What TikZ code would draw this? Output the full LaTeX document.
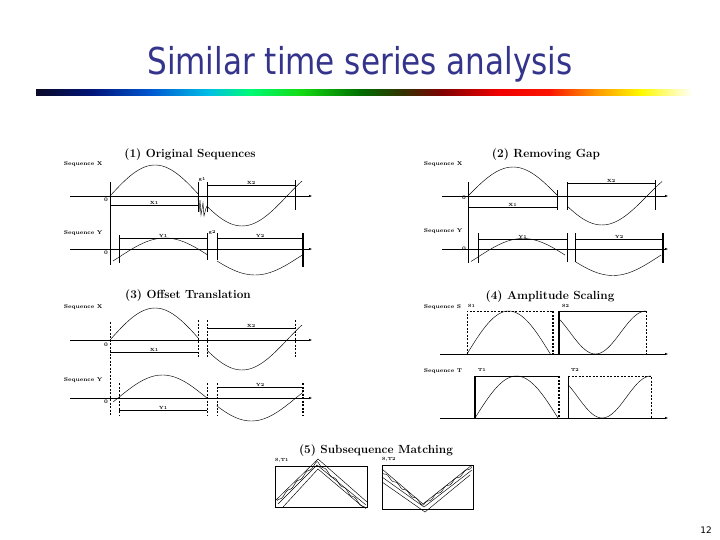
\documentclass[tikz,border=0pt]{standalone}
\usepackage{fontspec}
\usepackage{graphicx}
\usetikzlibrary{arrows.meta}
\usetikzlibrary{positioning}
\newfontfamily\slidefont{DejaVu Sans}

\definecolor{titleblue}{RGB}{52,52,140}
\definecolor{bar0}{RGB}{10,10,40}
\definecolor{bar1}{RGB}{0,20,120}
\definecolor{bar2}{RGB}{0,90,210}
\definecolor{bar3}{RGB}{0,190,230}
\definecolor{bar4}{RGB}{0,250,120}
\definecolor{bar5}{RGB}{20,220,20}
\definecolor{bar6}{RGB}{0,110,0}
\definecolor{bar7}{RGB}{50,50,0}
\definecolor{bar8}{RGB}{130,0,0}
\definecolor{bar9}{RGB}{240,0,0}
\definecolor{bar10}{RGB}{250,20,0}
\definecolor{bar11}{RGB}{255,150,0}
\definecolor{bar12}{RGB}{255,250,0}
\definecolor{bar13}{RGB}{255,255,255}

\begin{document}
\begin{tikzpicture}[
    x=1pt, y=-1pt,
    axis/.style={line width=0.6pt, -{Triangle[length=3pt, width=2pt]}},
    seq/.style={line width=0.45pt},
    tickline/.style={line width=0.5pt},
    thicktick/.style={line width=1.4pt},
    dashtick/.style={line width=0.5pt, dash pattern=on 2pt off 1.5pt},
    span/.style={line width=0.5pt},
    lbl/.style={font=\fontsize{5.5}{6}\selectfont\bfseries, inner sep=0.6pt},
    small/.style={font=\fontsize{4.5}{5}\selectfont\bfseries, inner sep=0.6pt},
    ptitle/.style={font=\fontsize{11.8}{13}\selectfont\bfseries, inner sep=0pt}
]

\useasboundingbox (0,0) rectangle (720,540);
\fill[white] (0,0) rectangle (720,540);

% --- Slide title and colour bar ---
\node[text=titleblue, font=\slidefont\fontsize{37}{40}\selectfont] (title) at (360,64)
    {\scalebox{0.84}[1]{Similar time series analysis}};

\foreach \a/\b/\ca/\cb in {36/92/bar0/bar1, 92/152/bar1/bar2, 152/208/bar2/bar3,
    208/249/bar3/bar4, 249/300/bar4/bar5, 300/360/bar5/bar6, 360/402/bar6/bar7,
    402/443/bar7/bar8, 443/498/bar8/bar9, 498/549/bar9/bar10, 549/595/bar10/bar11,
    595/641/bar11/bar12, 641/692/bar12/bar13}
    \shade[left color=\ca, right color=\cb] (\a,89.5) rectangle (\b+0.4,95.5);

% --- Panel (1): original sequences ---
\node[ptitle] (t1) at (190,155) {(1) Original Sequences};
\begin{scope}[shift={(110,196)}]
    \node[lbl, anchor=west] (p1sx) at (-47,-32) {Sequence X};
    \node[lbl, anchor=west] (p1sy) at (-47,37) {Sequence Y};
    \node[lbl] (p1o1) at (-4,4) {0};
    \node[lbl] (p1o2) at (-4,57) {0};
    \draw[axis] (-40,0) -- (202,0);
    \draw[axis] (-40,53) -- (202,53);
    \draw[tickline] (0,-14) -- (0,69);
    % X sequence with noisy gap
    \draw[seq] plot[domain=0:176, samples=40] ({\x*0.5},{-31*sin(\x)});
    \draw[seq] (88,1) -- (89,16) -- (90,4) -- (91,19) -- (93,7) -- (94,20) -- (96,12) -- (97,10);
    \draw[seq] plot[domain=200:390, samples=40] ({132+(\x-270)*0.5},{-30*sin(\x)});
    \foreach \u in {88,97}
        \draw[tickline] (\u,-14) -- (\u,16);
    \draw[tickline] (185,-16) -- (185,14);
    \draw[span] (0,9) -- (88,9) node[small, midway, above] (p1x1) {X1};
    \draw[span] (97,-11) -- (185,-11) node[small, midway, above] (p1x2) {X2};
    \node[small] (p1g1) at (92,-17) {g1};
    % Y sequence
    \draw[seq] plot[domain=-14:174, samples=40] ({55+(\x-90)*0.5},{60.5-18.5*sin(\x)});
    \draw[seq] plot[domain=194:366, samples=40] ({55+(\x-90)*0.5},{60.5-18.5*sin(\x)});
    \draw[tickline] (9,39) -- (9,67);
    \foreach \u in {97,107}
        \draw[tickline] (\u,37) -- (\u,64);
    \draw[thicktick] (193,37) -- (193,71);
    \draw[span] (9,42) -- (97,42) node[small, midway, above] (p1y1) {Y1};
    \draw[span] (107,42) -- (193,42) node[small, midway, above] (p1y2) {Y2};
    \node[small] (p1g2) at (102,36) {g2};
\end{scope}

% --- Panel (2): removing gap ---
\node[ptitle] (t2) at (546,155) {(2) Removing Gap};
\begin{scope}[shift={(468,196)}]
    \node[lbl, anchor=west] (p2sx) at (-45,-32) {Sequence X};
    \node[lbl, anchor=west] (p2sy) at (-45,35) {Sequence Y};
    \node[lbl] (p2o1) at (-4,2) {0};
    \node[lbl] (p2o2) at (-4,53) {0};
    \draw[axis] (-26,0) -- (200,0);
    \draw[axis] (-26,53) -- (200,53);
    \draw[tickline] (0,-14) -- (0,67);
    % X sequence
    \draw[seq] plot[domain=0:178, samples=40] ({\x*0.5},{-29*sin(\x)});
    \draw[seq] plot[domain=200:390, samples=40] ({134+(\x-270)*0.5},{-29*sin(\x)});
    \draw[tickline] (89,-6) -- (89,14);
    \draw[tickline] (99,-14) -- (99,14);
    \draw[tickline] (187,-16) -- (187,14);
    \draw[span] (0,11) -- (89,11) node[small, midway, above] (p2x1) {X1};
    \draw[span] (99,-13) -- (187,-13) node[small, midway, above] (p2x2) {X2};
    % Y sequence
    \draw[seq] plot[domain=-14:174, samples=40] ({55+(\x-90)*0.5},{61-18.5*sin(\x)});
    \draw[seq] plot[domain=194:366, samples=40] ({55+(\x-90)*0.5},{61-18.5*sin(\x)});
    \draw[tickline] (10,37) -- (10,67);
    \foreach \u in {99,107}
        \draw[tickline] (\u,37) -- (\u,66);
    \draw[thicktick] (195,37) -- (195,67);
    \draw[span] (10,43) -- (99,43) node[small, midway, above] (p2y1) {Y1};
    \draw[span] (107,43) -- (195,43) node[small, midway, above] (p2y2) {Y2};
\end{scope}

% --- Panel (3): offset translation ---
\node[ptitle] (t3) at (188,296) {(3) Offset Translation};
\begin{scope}[shift={(110,340)}]
    \node[lbl, anchor=west] (p3sx) at (-47,-33) {Sequence X};
    \node[lbl, anchor=west] (p3sy) at (-47,40) {Sequence Y};
    \node[lbl] (p3o1) at (-4,5) {0};
    \node[lbl] (p3o2) at (-4,62) {0};
    \draw[axis] (-40,0) -- (202,0);
    \draw[axis] (-40,58) -- (202,58);
    \draw[dashtick] (0,-18) -- (0,75);
    % X sequence
    \draw[seq] plot[domain=0:176, samples=40] ({\x*0.5},{-32*sin(\x)});
    \draw[seq] plot[domain=200:390, samples=40] ({132+(\x-270)*0.5},{-30*sin(\x)});
    \foreach \u in {88,97,185}
        \draw[dashtick] (\u,-20) -- (\u,17);
    \draw[span] (0,12) -- (88,12) node[small, midway, above] (p3x1) {X1};
    \draw[span] (97,-12) -- (185,-12) node[small, midway, above] (p3x2) {X2};
    % Y sequence
    \draw[seq] plot[domain=-10:180, samples=40] ({8+\x*0.494},{58-23*sin(\x)});
    \draw[seq] plot[domain=200:374, samples=40] ({8+\x*0.494},{58-23*sin(\x)});
    \foreach \u in {9,97,107}
        \draw[dashtick] (\u,43) -- (\u,75);
    \draw[dashtick, line width=1.4pt] (193,43) -- (193,75);
    \draw[span] (9,70) -- (97,70) node[small, midway, above] (p3y1) {Y1};
    \draw[span] (107,47) -- (193,47) node[small, midway, above] (p3y2) {Y2};
\end{scope}

% --- Panel (4): amplitude scaling ---
\node[ptitle] (t4) at (550,297) {(4) Amplitude Scaling};
\node[lbl, anchor=west] (p4ss) at (423,307) {Sequence S};
\node[small, anchor=west] (p4s1) at (467,306) {S1};
\node[small, anchor=west] (p4s2) at (561,306) {S2};
\node[lbl, anchor=west] (p4st) at (423,371) {Sequence T};
\node[small, anchor=west] (p4t1) at (477,370) {T1};
\node[small, anchor=west] (p4t2) at (570,370) {T2};
\draw[axis] (440,354) -- (668,354);
\draw[axis] (440,418) -- (668,418);
% S windows
\draw[dashtick] (467,354) -- (467,311) -- (553,311);
\draw[dashtick, line width=1.1pt] (553,311) -- (553,354);
\draw[seq] plot[domain=0:180, samples=40] ({467+\x*0.463},{354-43*sin(\x)});
\draw[thicktick] (559,354) -- (559,311);
\draw[tickline] (559,311) -- (646,311);
\draw[dashtick] (646,311) -- (646,354);
\draw[seq] plot[domain=-36:270, samples=50] ({560+(\x+36)*0.281},{332.5+21.5*sin(\x)});
% T windows
\draw[thicktick] (475,418) -- (475,376);
\draw[tickline] (475,376) -- (559,376);
\draw[dashtick, line width=1.1pt] (559,376) -- (559,418);
\draw[seq] plot[domain=0:180, samples=40] ({475+\x*0.461},{418-42*sin(\x)});
\draw[tickline] (568,418) -- (568,376);
\draw[dashtick] (568,376) -- (651,376) -- (651,418);
\draw[seq] plot[domain=-36:270, samples=50] ({568+(\x+36)*0.271},{397+21*sin(\x)});

% --- Panel (5): subsequence matching ---
\node[ptitle] (t5) at (376,451) {(5) Subsequence Matching};
\node[small, anchor=south west] (p5l1) at (274,463) {S,T1};
\node[small, anchor=south west] (p5l2) at (381,462) {S,T2};
\draw[tickline] (275,466) rectangle (367,507);
\draw[seq] (276,500) -- (318,459) -- (367,502);
\draw[seq] (278,504) -- (317,465) -- (366,505);
\draw[seq] (283,507) -- (318,469) -- (363,507);
\draw[seq] plot[domain=277:366, samples=90] ({\x},{462+abs(\x-317.5)*0.98+1.1*sin(37*(\x-270))});
\draw[tickline] (382,465) rectangle (473,509);
\draw[seq] (382,469) -- (423,504) -- (472,465);
\draw[seq] (382,477) -- (424,507) -- (472,470);
\draw[seq] (382,482) -- (425,512) -- (470,475);
\draw[seq] plot[domain=383:472, samples=90] ({\x},{505-abs(\x-423.5)*0.8+1.1*sin(37*(\x-380))});

% --- Page number ---
\node[font=\slidefont\fontsize{9}{10}\selectfont] (page) at (706,530) {12};

\end{tikzpicture}
\end{document}
